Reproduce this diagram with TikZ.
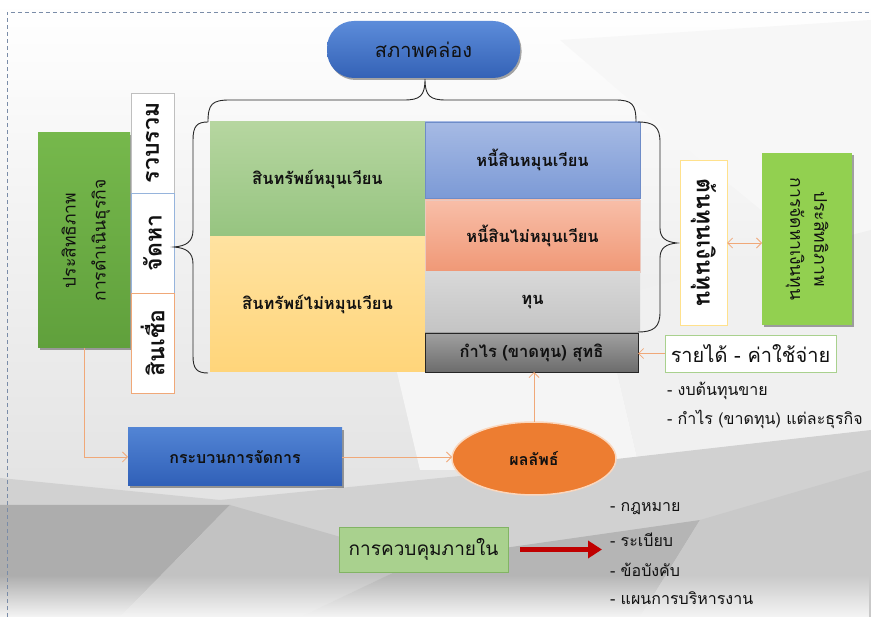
\documentclass[tikz,border=0pt]{standalone}
\usepackage{fontspec}
\setmainfont{Loma}[Script=Thai]
\usetikzlibrary{arrows.meta,shadows,shapes.geometric,fadings}
\definecolor{txt}{HTML}{111111}
\definecolor{lineor}{HTML}{F0A878}
\definecolor{framecol}{HTML}{7A8CA8}
\definecolor{bgbot}{HTML}{DCDCDC}
\definecolor{pilltop}{HTML}{5C8CDA}
\definecolor{pillbot}{HTML}{3462B6}
\definecolor{lgtop}{HTML}{76B84C}
\definecolor{lgbot}{HTML}{60A03C}
\definecolor{jhbord}{HTML}{96B4DC}
\definecolor{a1top}{HTML}{B6D6A0}
\definecolor{a1bot}{HTML}{96C480}
\definecolor{a2top}{HTML}{FFE2A0}
\definecolor{a2bot}{HTML}{FFD57A}
\definecolor{l1top}{HTML}{A6BAE4}
\definecolor{l1bot}{HTML}{7C9AD6}
\definecolor{l1bord}{HTML}{6E8CC8}
\definecolor{l2top}{HTML}{F8BEA8}
\definecolor{l2bot}{HTML}{F09876}
\definecolor{l2bord}{HTML}{EBC8BE}
\definecolor{eqtop}{HTML}{D8D8D8}
\definecolor{eqbot}{HTML}{C4C4C4}
\definecolor{prtop}{HTML}{A0A0A0}
\definecolor{prbot}{HTML}{6C6C6C}
\definecolor{ctbord}{HTML}{FFE18C}
\definecolor{rgfill}{HTML}{92D050}
\definecolor{ribord}{HTML}{A9D18E}
\definecolor{mgtop}{HTML}{5284D4}
\definecolor{mgbot}{HTML}{3060B8}
\definecolor{elfill}{HTML}{ED7D31}
\definecolor{elbord}{HTML}{FAD7BE}
\definecolor{icfill}{HTML}{A9D18E}
\definecolor{icbord}{HTML}{82B464}
\definecolor{redarrow}{HTML}{C00000}
\begin{document}
\begin{tikzpicture}[x=1pt,y=-1pt,
  every node/.style={inner sep=0pt, outer sep=0pt, align=center, text=txt},
  conn/.style={draw=lineor, line width=0.8pt, -{Straight Barb[length=5pt,width=10pt]}},
  dconn/.style={draw=lineor, line width=0.8pt, {Straight Barb[length=5pt,width=10pt]}-{Straight Barb[length=5pt,width=10pt]}},
  bracel/.style={draw=black!85, line width=0.9pt},
  shad/.style={drop shadow={shadow xshift=1.5pt, shadow yshift=-2pt, opacity=0.35, fill=black}},
  vbox/.style={fill=white, draw=#1, line width=0.8pt, minimum width=43pt, minimum height=100pt},
  cellbox/.style={font=\bfseries\fontsize{16.5}{20}\selectfont},
  listtxt/.style={anchor=west, font=\fontsize{16}{19}\selectfont},
  vlab/.style={font=\bfseries\fontsize{23}{26}\selectfont}
]
\useasboundingbox (0,0) rectangle (871,617);
% background
\shade[top color=white, bottom color=bgbot] (0,0) rectangle (871,617);
\fill[black!3] (560,40) -- (871,20) -- (871,300) -- (700,160) -- cycle;
\fill[black!6] (600,300) -- (871,230) -- (871,470) -- (640,470) -- cycle;
\fill[black!4] (380,300) -- (600,300) -- (640,470) -- (420,470) -- cycle;
\fill[black!18] (0,478) -- (220,500) -- (520,470) -- (871,430) -- (871,617) -- (0,617) -- cycle;
\fill[black!32] (0,505) -- (230,505) -- (120,617) -- (0,617) -- cycle;
\fill[black!24] (230,505) -- (420,560) -- (300,617) -- (120,617) -- cycle;
\fill[black!29] (420,560) -- (700,520) -- (640,617) -- (300,617) -- cycle;
\fill[black!21] (700,520) -- (871,470) -- (871,617) -- (640,617) -- cycle;
\fill[black!4, path fading=north] (0,575) rectangle (871,617);
% dashed frame
\draw[framecol, line width=0.7pt, dash pattern=on 4pt off 3pt] (7,617) -- (7,12) -- (871,12);

% top pill
\node[shad, rounded corners=27pt, top color=pilltop, bottom color=pillbot, minimum width=193pt, minimum height=57pt, font=\fontsize{20}{24}\selectfont] (pill) at (423.5,49.5) {สภาพคล่อง};

% left green box
\node[shad, top color=lgtop, bottom color=lgbot, minimum width=92pt, minimum height=215pt] (lg) at (84,240.5) {};
\node[rotate=90, font=\fontsize{17.5}{30}\selectfont] (lgt) at ([xshift=2pt]lg.center) {ประสิทธิภาพ\\การดำเนินธุรกิจ};

% left vertical labels
\node[vbox=black!25] (rv) at (152.5,143) {};
\node[vbox=jhbord] (jh) at (152.5,243) {};
\node[vbox=lineor] (sc) at (152.5,343) {};
\node[vlab, rotate=90] (rvt) at (rv) {รวบรวม};
\node[vlab, rotate=90] (jht) at (jh) {จัดหา};
\node[vlab, rotate=90] (sct) at (sc) {สินเชื่อ};

% grid
\node[cellbox, top color=a1top, bottom color=a1bot, minimum width=215pt, minimum height=115pt] (a1) at (317.5,179.5) {สินทรัพย์หมุนเวียน};
\node[cellbox, top color=a2top, bottom color=a2bot, minimum width=215pt, minimum height=135pt] (a2) at (317.5,304.5) {สินทรัพย์ไม่หมุนเวียน};
\node[cellbox, top color=l1top, bottom color=l1bot, draw=l1bord, line width=0.5pt, minimum width=215pt, minimum height=76pt] (l1) at (532.5,160) {หนี้สินหมุนเวียน};
\node[cellbox, top color=l2top, bottom color=l2bot, draw=l2bord, line width=0.5pt, minimum width=215pt, minimum height=72pt] (l2) at (532.5,236) {หนี้สินไม่หมุนเวียน};
\node[cellbox, top color=eqtop, bottom color=eqbot, minimum width=215pt, minimum height=60pt] (eq) at (532.5,302) {ทุน};
\node[cellbox, top color=prtop, bottom color=prbot, draw=black!85, line width=0.8pt, minimum width=213pt, minimum height=39pt] (pr) at (531.5,352.5) {กำไร (ขาดทุน) สุทธิ};

% braces
\draw[bracel] (208,122) .. controls (208,104) and (212,100) .. (230,100) -- (404,100) .. controls (420,100) and (425,96) .. (425,79) .. controls (425,96) and (430,100) .. (446,100) -- (615,100) .. controls (632,100) and (636,104) .. (636,122);
\draw[bracel] (208,122) .. controls (197,122) and (193,126) .. (193,140) -- (193,230) .. controls (193,242) and (186,246) .. (174,247) .. controls (186,248) and (193,252) .. (193,264) -- (193,356) .. controls (193,369) and (197,373) .. (208,373);
\draw[bracel] (638,122) .. controls (654,122) and (660,127) .. (660,142) -- (660,228) .. controls (660,238) and (666,242) .. (677,243) .. controls (666,244) and (660,248) .. (660,258) -- (660,312) .. controls (660,327) and (654,332) .. (638,332);

% right side
\node[fill=white, draw=ctbord, line width=0.8pt, minimum width=47pt, minimum height=165pt] (ct) at (703.5,242.5) {};
\node[vlab, rotate=-90] (ctt) at (ct) {ต้นทุนเงินทุน};
\node[shad, fill=rgfill, minimum width=90pt, minimum height=172pt] (rg) at (807,239) {};
\node[rotate=-90, font=\fontsize{17.5}{24}\selectfont] (rgt) at (rg) {ประสิทธิภาพ\\การจัดหาเงินทุน};
\draw[dconn] (ct.east |- 0,243) -- (rg.west |- 0,243);

\node[fill=white, draw=ribord, line width=0.8pt, minimum width=171pt, minimum height=37pt, font=\fontsize{20}{24}\selectfont] (ri) at (750.5,353.5) {รายได้ - ค่าใช้จ่าย};
\draw[conn] (ri.west) -- (ri.west -| pr.east);
\node[listtxt] (r1) at (667,391) {- งบต้นทุนขาย};
\node[listtxt] (r2) at (667,419) {- กำไร (ขาดทุน) แต่ละธุรกิจ};

% process
\node[shad, top color=mgtop, bottom color=mgbot, minimum width=214pt, minimum height=58pt, font=\bfseries\fontsize{16}{19}\selectfont] (mg) at (235,457) {กระบวนการจัดการ};
\draw[conn] (lg.south) |- (mg.west);
\node[ellipse, fill=elfill, draw=elbord, line width=1.5pt, minimum width=164pt, minimum height=73pt, font=\bfseries\fontsize{16}{19}\selectfont] (el) at (534,458.5) {ผลลัพธ์};
\draw[conn] (mg.east) -- (mg.east -| el.west);
\draw[conn] (el.north) -- (el.north |- pr.south);

% internal control
\node[fill=icfill, draw=icbord, line width=0.8pt, minimum width=169pt, minimum height=45pt, font=\fontsize{19}{23}\selectfont] (ic) at (423.5,549.5) {การควบคุมภายใน};
\coordinate (ra) at (602,549.5);
\draw[draw=redarrow, line width=4.5pt, -{Triangle[length=14pt,width=17pt]}] ([xshift=12pt]ic.east) -- (ra);
\node[listtxt] (k1) at (610,509) {- กฎหมาย};
\node[listtxt] (k2) at (610,540) {- ระเบียบ};
\node[listtxt] (k3) at (610,570) {- ข้อบังคับ};
\node[listtxt] (k4) at (610,598) {- แผนการบริหารงาน};
\end{tikzpicture}
\end{document}
